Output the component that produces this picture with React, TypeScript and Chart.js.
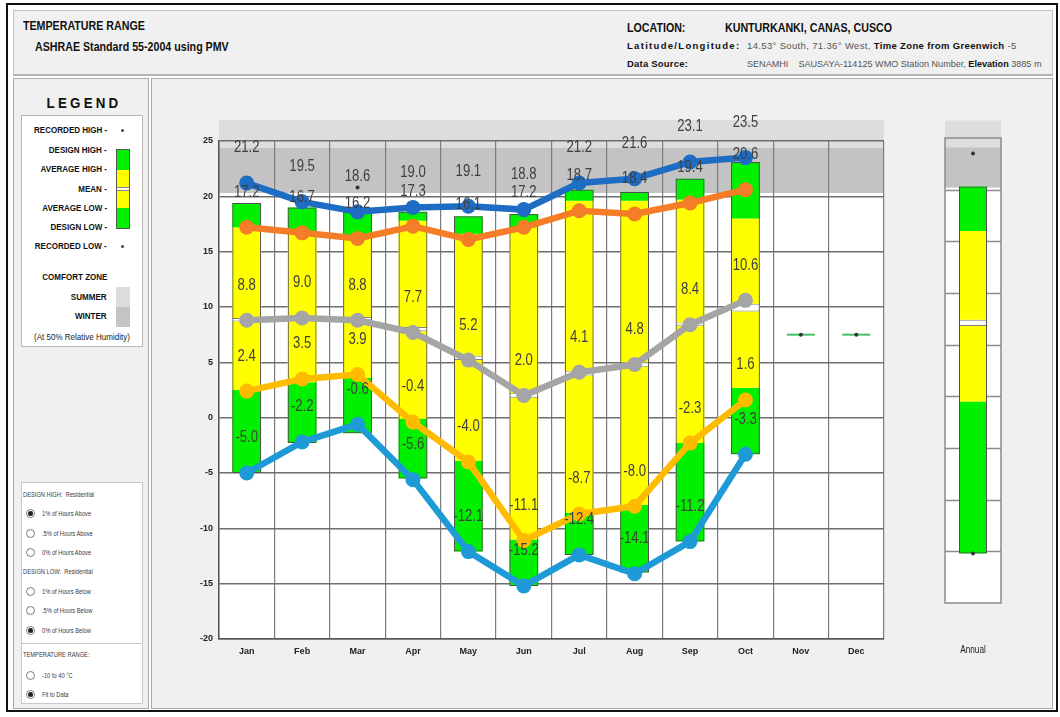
import React, { useEffect, useRef } from 'react';
import { Chart, registerables } from 'chart.js';

Chart.register(...registerables);

const SANS = '"Liberation Sans", Arial, "DejaVu Sans", sans-serif';
const NARROW_SCALE = 0.82;

// ---------- data ----------
const months = ['Jan', 'Feb', 'Mar', 'Apr', 'May', 'Jun', 'Jul', 'Aug', 'Sep', 'Oct', 'Nov', 'Dec'];

// overlaid labelled lines
const lineHigh = [21.2, 19.5, 18.6, 19.0, 19.1, 18.8, 21.2, 21.6, 23.1, 23.5, null, null];
const lineAvgHigh = [17.2, 16.7, 16.2, 17.3, 16.1, 17.2, 18.7, 18.4, 19.4, 20.6, null, null];
const lineMean = [8.8, 9.0, 8.8, 7.7, 5.2, 2.0, 4.1, 4.8, 8.4, 10.6, null, null];
const lineAvgLow = [2.4, 3.5, 3.9, -0.4, -4.0, -11.1, -8.7, -8.0, -2.3, 1.6, null, null];
const lineLow = [-5.0, -2.2, -0.6, -5.6, -12.1, -15.2, -12.4, -14.1, -11.2, -3.3, null, null];

// range bars
const barDesignHigh = [19.4, 19.0, 18.6, 18.6, 18.2, 18.4, 20.6, 20.4, 21.6, 23.1, null, null];
const barAvgHigh = [17.2, 16.7, 16.4, 17.8, 16.6, 17.2, 19.6, 19.6, 19.7, 18.0, null, null];
const barMeanTop = [9.0, 9.2, 9.1, 8.2, 5.6, 2.2, 4.2, 5.0, 8.6, 10.3, null, null];
const barMeanBottom = [8.7, 8.9, 8.8, 7.8, 5.2, 1.8, 3.8, 4.6, 8.3, 9.6, null, null];
const barAvgLow = [2.5, 3.2, 3.6, -0.1, -3.9, -11.0, -8.6, -7.9, -2.3, 2.7, null, null];
const barDesignLow = [-5.0, -2.3, -1.4, -5.5, -12.1, -15.2, -12.4, -14.0, -11.2, -3.3, null, null];
const recordedDots = [null, null, 20.8, null, null, null, null, null, null, null, 7.5, 7.5];
const flatMarks = [null, null, null, null, null, null, null, null, null, null, 7.5, 7.5];

const summerZone = [24.4, 26.9];
const winterZone = [20.3, 24.4];

// annual
const annualLabels = ['Annual'];
const annualDesignHigh = [20.3];
const annualAvgHigh = [16.0];
const annualMeanTop = [7.4];
const annualMeanBottom = [6.8];
const annualAvgLow = [-0.5];
const annualDesignLow = [-15.2];
const annualRecHigh = [23.5];
const annualRecLow = [-15.2];
const annualSummer = [24.1, 26.7];
const annualWinter = [20.2, 24.1];
const annualGridTicks = [20, 15, 10, 5, 0, -5, -10, -15];

// ---------- styles ----------
const GREEN = '#00f000';
const YELLOW = '#ffff00';
const C_DBLUE = '#1f6cc4';
const C_ORANGE = '#f57d28';
const C_GRAY = '#a5a5a5';
const C_GOLD = '#ffbb00';
const C_LBLUE = '#1e9bd7';
const LABEL_OFFSET = 35;

function floating(lo: any[], hi: any[]) {
  return lo.map((l, i) => (l == null || hi[i] == null ? null : [l, hi[i]]));
}

function barSet(label: string, data: any[], color: string, pct: number, extra: any = {}) {
  return {
    type: 'bar', label, data, backgroundColor: color, borderWidth: 0, borderSkipped: false,
    grouped: false, barPercentage: pct, categoryPercentage: 1, order: 10, ...extra,
  };
}

function lineSet(label: string, data: any[], color: string) {
  return {
    type: 'line', label, data, borderColor: color, backgroundColor: color, borderWidth: 6.5,
    pointRadius: 7.5, pointBackgroundColor: color, pointBorderWidth: 0, tension: 0, order: 1,
    valueLabels: true, clip: false,
  };
}

function rangeSets(dh: any[], ah: any[], mt: any[], mb: any[], al: any[], dl: any[], pct: number) {
  return [
    barSet('Design High', floating(ah, dh), GREEN, pct),
    barSet('Average High', floating(mt, ah), YELLOW, pct),
    barSet('Mean', floating(mb, mt), '#ffffff', pct, { borderWidth: { top: 1, bottom: 1, left: 0, right: 0 }, borderColor: '#808080' }),
    barSet('Average Low', floating(al, mb), YELLOW, pct),
    barSet('Design Low', floating(dl, al), GREEN, pct),
    barSet('outline', floating(dl, dh), 'rgba(0,0,0,0)', pct, { borderWidth: 1, borderColor: '#505050', order: 9 }),
  ];
}

const bandPlugin = {
  id: 'bands',
  beforeDraw(chart: any, _args: any, opts: any) {
    const { ctx, chartArea: a, scales } = chart;
    const y = scales.y;
    ctx.save();
    ctx.fillStyle = '#ffffff';
    ctx.fillRect(a.left, a.top, a.right - a.left, a.bottom - a.top);
    let t = y.getPixelForValue(opts.summer[1]);
    let b = y.getPixelForValue(opts.summer[0]);
    ctx.fillStyle = '#dddddd';
    ctx.fillRect(a.left, t, a.right - a.left, b - t);
    t = y.getPixelForValue(opts.winter[1]);
    b = y.getPixelForValue(opts.winter[0]);
    ctx.fillStyle = '#c3c3c3';
    ctx.fillRect(a.left, t, a.right - a.left, b - t);
    ctx.restore();
  },
  beforeDatasetsDraw(chart: any, _args: any, opts: any) {
    if (!opts.box) return;
    const { ctx, chartArea: a, scales } = chart;
    const y = scales.y;
    ctx.save();
    ctx.strokeStyle = '#8c8c8c';
    ctx.lineWidth = 1.5;
    (opts.grid || []).forEach((v: number) => {
      const py = Math.round(y.getPixelForValue(v)) + 0.5;
      ctx.beginPath();
      ctx.moveTo(a.left, py);
      ctx.lineTo(a.right, py);
      ctx.stroke();
    });
    ctx.strokeStyle = '#8a8a8a';
    ctx.strokeRect(a.left, a.top, a.right - a.left, a.bottom - a.top);
    ctx.restore();
  },
};

const valueLabelPlugin = {
  id: 'valueLabels',
  afterDatasetsDraw(chart: any) {
    const ctx = chart.ctx;
    ctx.save();
    ctx.font = '16px ' + SANS;
    ctx.fillStyle = '#3f3f3f';
    ctx.textAlign = 'center';
    ctx.textBaseline = 'middle';
    chart.data.datasets.forEach((ds: any, i: number) => {
      if (!ds.valueLabels) return;
      const meta = chart.getDatasetMeta(i);
      meta.data.forEach((pt: any, j: number) => {
        const v = ds.data[j];
        if (v == null) return;
        ctx.save();
        ctx.translate(pt.x, pt.y - LABEL_OFFSET);
        ctx.scale(NARROW_SCALE, 1);
        ctx.fillText(v.toFixed(1), 0, 0);
        ctx.restore();
      });
    });
    ctx.restore();
  },
};

const tickFont = { family: SANS, size: 9, weight: 'bold' as const };

function mainConfig(): any {
  return {
    type: 'bar',
    data: {
      labels: months,
      datasets: [
        ...rangeSets(barDesignHigh, barAvgHigh, barMeanTop, barMeanBottom, barAvgLow, barDesignLow, 0.52),
        { type: 'line', label: 'flat', data: flatMarks, showLine: false, pointStyle: 'line', pointRadius: 14, pointBorderWidth: 2, pointBorderColor: '#44c060', pointBackgroundColor: '#44c060', order: 8 },
        { type: 'line', label: 'recorded', data: recordedDots, showLine: false, pointRadius: 2, pointBackgroundColor: '#333333', pointBorderWidth: 0, order: 7 },
        lineSet('Recorded High', lineHigh, C_DBLUE),
        lineSet('Average High', lineAvgHigh, C_ORANGE),
        lineSet('Mean', lineMean, C_GRAY),
        lineSet('Average Low', lineAvgLow, C_GOLD),
        lineSet('Recorded Low', lineLow, C_LBLUE),
      ],
    },
    plugins: [bandPlugin, valueLabelPlugin],
    options: {
      responsive: false,
      animation: false,
      events: [],
      layout: { padding: { left: 0, right: 11, top: 41, bottom: 0 } },
      plugins: {
        legend: { display: false },
        tooltip: { enabled: false },
        bands: { summer: summerZone, winter: winterZone, box: false },
      },
      scales: {
        x: {
          offset: true,
          grid: { offset: true, color: '#7c7c7c', lineWidth: 1.2, drawTicks: false },
          border: { color: '#555555', width: 1.5 },
          ticks: { padding: 7, color: '#222222', font: tickFont },
          afterFit: (s: any) => { s.height = 31; },
        },
        y: {
          min: -20,
          max: 25,
          ticks: { stepSize: 5, padding: 6, color: '#222222', font: tickFont },
          grid: { color: '#6e6e6e', lineWidth: 1.5, drawTicks: false },
          border: { color: '#555555', width: 1.5 },
          afterFit: (s: any) => { s.width = 59; },
        },
      },
    },
  };
}

function annualConfig(): any {
  return {
    type: 'bar',
    data: {
      labels: annualLabels,
      datasets: [
        ...rangeSets(annualDesignHigh, annualAvgHigh, annualMeanTop, annualMeanBottom, annualAvgLow, annualDesignLow, 0.5),
        { type: 'line', label: 'recHigh', data: annualRecHigh, showLine: false, pointRadius: 2, pointBackgroundColor: '#333333', pointBorderWidth: 0, order: 7 },
        { type: 'line', label: 'recLow', data: annualRecLow, showLine: false, pointRadius: 2, pointBackgroundColor: '#333333', pointBorderWidth: 0, order: 7 },
      ],
    },
    plugins: [bandPlugin],
    options: {
      responsive: false,
      animation: false,
      events: [],
      layout: { padding: { left: 20, right: 20, top: 38, bottom: 67 } },
      plugins: {
        legend: { display: false },
        tooltip: { enabled: false },
        bands: { summer: annualSummer, winter: annualWinter, box: true, grid: annualGridTicks },
      },
      scales: {
        x: { display: false, offset: true },
        y: { display: false, min: -20, max: 25 },
      },
    },
  };
}

// ---------- html helpers ----------
type TP = { x: number; y: number; size: number; bold?: boolean; color?: string; right?: boolean; center?: boolean; spacing?: number; scale?: number; children: any };
function T(props: TP) {
  const { x, y, size, bold, color, right, center, spacing, children } = props;
  const scale = props.scale == null ? NARROW_SCALE : props.scale;
  const style: any = {
    position: 'absolute', top: y, transform: center ? 'translate(-50%,-50%)' : 'translateY(-50%)',
    fontFamily: SANS, fontSize: size, fontWeight: bold ? 'bold' : 'normal', color: color || '#111',
    whiteSpace: 'nowrap', lineHeight: 1, letterSpacing: spacing || 0,
  };
  if (right) { style.right = 1060 - x; } else { style.left = x; }
  const origin = center ? 'center center' : right ? 'right center' : 'left center';
  return (
    <div style={style}>
      <span style={{ display: 'inline-block', transform: `scaleX(${scale})`, transformOrigin: origin }}>{children}</span>
    </div>
  );
}

function Radio(props: { y: number; checked?: boolean; label: string }) {
  const { y, checked, label } = props;
  return (
    <>
      <div style={{ position: 'absolute', left: 25.5, top: y - 4.5, width: 9, height: 9, borderRadius: '50%', border: '1px solid #7a7a7a', background: '#fff', boxSizing: 'border-box' }}>
        {checked && <div style={{ position: 'absolute', left: 1, top: 1, width: 5, height: 5, borderRadius: '50%', background: '#222' }} />}
      </div>
      <T x={42} y={y} size={7} color="#3a3a3a">{label}</T>
    </>
  );
}

function Rect(props: { x: number; y: number; w: number; h: number; bg?: string; border?: string; extra?: any }) {
  const { x, y, w, h, bg, border, extra } = props;
  return <div style={{ position: 'absolute', left: x, top: y, width: w, height: h, background: bg || 'transparent', border: border || 'none', boxSizing: 'border-box', ...(extra || {}) }} />;
}

export default function App() {
  const mainRef = useRef<HTMLCanvasElement>(null);
  const annRef = useRef<HTMLCanvasElement>(null);

  useEffect(() => {
    const c1 = new Chart(mainRef.current as HTMLCanvasElement, mainConfig());
    const c2 = new Chart(annRef.current as HTMLCanvasElement, annualConfig());
    return () => { c1.destroy(); c2.destroy(); };
  }, []);

  const legendItems: [string, number][] = [
    ['RECORDED HIGH -', 130],
    ['DESIGN HIGH -', 150],
    ['AVERAGE HIGH -', 169],
    ['MEAN -', 189],
    ['AVERAGE LOW -', 208],
    ['DESIGN LOW -', 227],
    ['RECORDED LOW -', 246],
  ];

  return (
    <div style={{ position: 'relative', width: 1060, height: 717, background: '#fff', overflow: 'hidden' }}>
      <style>{'body{margin:0}'}</style>
      {/* outer frame */}
      <Rect x={6} y={3} w={1052} h={709} border="2.5px solid #111" />
      {/* header */}
      <Rect x={13} y={10} w={1040} h={66} bg="#f0f0f0" border="1px solid #c4c4c4" extra={{ borderBottom: '2px solid #b4b4b4' }} />
      <T x={23} y={25} size={13} bold>TEMPERATURE RANGE</T>
      <T x={35} y={46} size={13} bold>ASHRAE Standard 55-2004 using PMV</T>
      <T x={627} y={27} size={13} bold>LOCATION:</T>
      <T x={725} y={27} size={13} bold>KUNTURKANKI, CANAS, CUSCO</T>
      <T x={627} y={46} size={9.5} bold spacing={1.3} scale={1}>Latitude/Longitude:</T>
      <T x={747} y={46} size={9.5} color="#555" spacing={0.35} scale={1}>
        14.53° South, 71.36° West, <b style={{ color: '#111' }}>Time Zone from Greenwich</b> -5
      </T>
      <T x={627} y={64} size={9.5} bold spacing={0.2} scale={1}>Data Source:</T>
      <T x={747} y={64} size={9.5} color="#555" spacing={0} scale={0.955}>
        SENAMHI&nbsp;&nbsp;&nbsp; SAUSAYA-114125 WMO Station Number, <b style={{ color: '#111' }}>Elevation</b> 3885 m
      </T>

      {/* left panel */}
      <Rect x={13} y={78} w={136} h={631} bg="#f0f0f0" border="1px solid #a8a8a8" />
      <T x={84} y={103} size={14.5} bold center spacing={3.5} scale={0.92}>LEGEND</T>
      <Rect x={21} y={115} w={122} h={232} bg="#fff" border="1px solid #b8b8b8" />
      {legendItems.map(([t, y]) => (
        <T key={t} x={107} y={y} size={9.8} bold right>{t}</T>
      ))}
      <Rect x={121} y={128.5} w={3} h={3} bg="#444" extra={{ borderRadius: '50%' }} />
      <Rect x={121} y={244.5} w={3} h={3} bg="#444" extra={{ borderRadius: '50%' }} />
      <Rect x={116} y={149} w={14} h={20.5} bg={GREEN} />
      <Rect x={116} y={169.5} w={14} h={17} bg={YELLOW} />
      <Rect x={116} y={186.5} w={14} h={4} bg="#fff" extra={{ borderTop: '1px solid #888', borderBottom: '1px solid #888' }} />
      <Rect x={116} y={190.5} w={14} h={17} bg={YELLOW} />
      <Rect x={116} y={207.5} w={14} h={21.5} bg={GREEN} />
      <Rect x={116} y={149} w={14} h={80} border="1px solid #555" />
      <T x={107} y={277} size={9.8} bold right>COMFORT ZONE</T>
      <T x={107} y={297} size={9.8} bold right>SUMMER</T>
      <T x={107} y={316} size={9.8} bold right>WINTER</T>
      <Rect x={116} y={287} w={14} h={20} bg="#dcdcdc" />
      <Rect x={116} y={307} w={14} h={20} bg="#c4c4c4" />
      <T x={82} y={337} size={9.8} center color="#222">(At 50% Relative Humidity)</T>

      <Rect x={21} y={482} w={122} h={162} bg="#fff" border="1px solid #c8c8c8" />
      <Rect x={21} y={643} w={122} h={61} bg="#fff" border="1px solid #c8c8c8" />
      <T x={23} y={494} size={7} color="#3a3a3a">DESIGN HIGH:&nbsp; Residential</T>
      <Radio y={513} checked label="1% of Hours Above" />
      <Radio y={533} label=".5% of Hours Above" />
      <Radio y={552} label="0% of Hours Above" />
      <T x={23} y={571} size={7} color="#3a3a3a">DESIGN LOW:&nbsp; Residential</T>
      <Radio y={591} label="1% of Hours Below" />
      <Radio y={610} label=".5% of Hours Below" />
      <Radio y={630} checked label="0% of Hours Below" />
      <T x={23} y={654} size={7} color="#3a3a3a">TEMPERATURE RANGE:</T>
      <Radio y={675} label="-10 to 40 °C" />
      <Radio y={694} checked label="Fit to Data" />

      {/* main panel */}
      <Rect x={151} y={78} w={902} h={631} bg="#f0f0f0" border="1px solid #a8a8a8" />
      <canvas ref={mainRef} width={740} height={570} style={{ position: 'absolute', left: 160, top: 100, width: 740, height: 570 }} />
      <canvas ref={annRef} width={96} height={570} style={{ position: 'absolute', left: 925, top: 100, width: 96, height: 570 }} />
      <T x={973} y={650} size={10} center color="#222">Annual</T>
    </div>
  );
}
